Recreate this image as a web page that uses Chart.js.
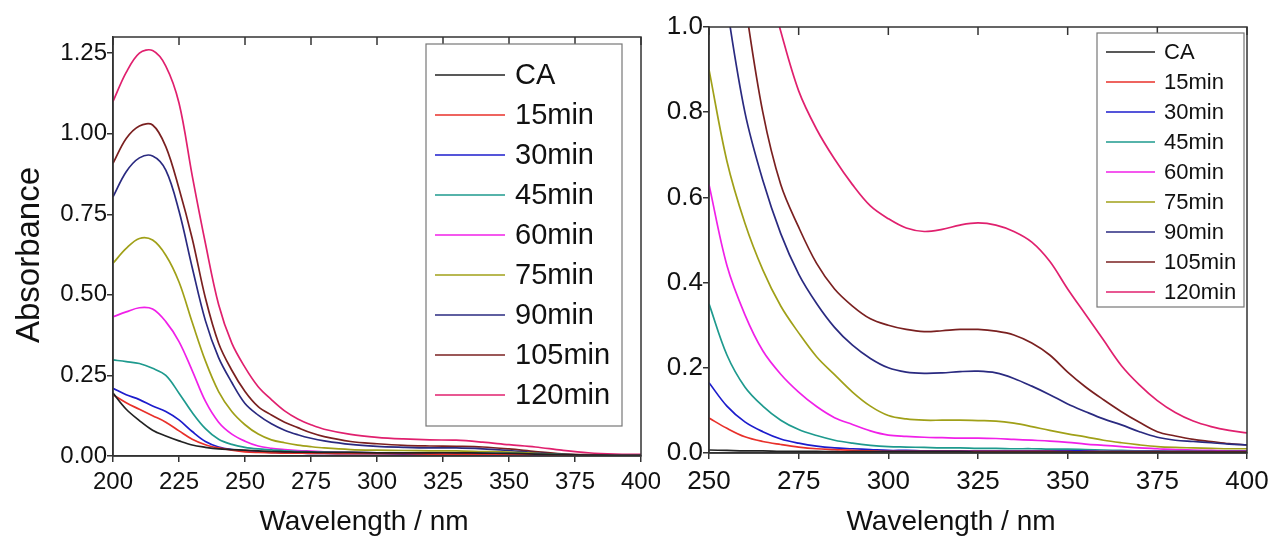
<!DOCTYPE html>
<html>
<head>
<meta charset="utf-8">
<script src="https://cdn.jsdelivr.net/npm/chart.js"></script>
<style>
html,body{margin:0;padding:0;background:#fff;}
#wrap{position:relative;width:1272px;height:537px;overflow:hidden;}
#cL{position:absolute;left:0;top:0;}
#cR{position:absolute;left:645px;top:0;}
</style>
</head>
<body>
<div id="wrap">
  <canvas id="cL" width="660" height="537"></canvas>
  <canvas id="cR" width="627" height="537"></canvas>
</div>
<script>
/* ---------- data ---------- */
const names  = ['CA','15min','30min','45min','60min','75min','90min','105min','120min'];
const colors = ['#222222','#e8302a','#1c1ccc','#1e9a8e','#f020e8','#a0a018','#2a2a80','#7a2020','#e0206e'];

// left panel, 200-400 nm
const leftWl  = [200,205,210,215,220,225,230,235,240,245,250,255,260,265,270,275,280,290,300,310,320,330,340,350,360,370,380,390,400];
const leftCA  = [0.195,0.145,0.11,0.08,0.062,0.047,0.034,0.027,0.022,0.02,0.018,0.016,0.014,0.013,0.012,0.012,0.011,0.011,0.010,0.010,0.010,0.010,0.009,0.008,0.006,0.004,0.003,0.002,0.002];
const left15  = [0.19,0.165,0.145,0.125,0.105,0.078,0.052,0.035,0.025,0.018,0.013,0.011,0.010,0.009,0.009,0.008,0.008,0.007,0.007,0.007,0.006,0.006,0.006,0.005,0.004,0.003,0.002,0.002,0.002];
const left30  = [0.21,0.19,0.175,0.155,0.138,0.112,0.076,0.045,0.028,0.02,0.016,0.013,0.011,0.010,0.009,0.008,0.008,0.007,0.007,0.006,0.006,0.006,0.005,0.004,0.003,0.002,0.002,0.002,0.002];
const left45  = [0.298,0.293,0.287,0.272,0.25,0.195,0.135,0.085,0.052,0.036,0.027,0.022,0.019,0.016,0.014,0.013,0.012,0.011,0.010,0.010,0.010,0.010,0.009,0.008,0.006,0.004,0.003,0.002,0.002];
const left60  = [0.432,0.447,0.46,0.456,0.417,0.355,0.265,0.17,0.105,0.068,0.046,0.031,0.024,0.02,0.017,0.015,0.013,0.011,0.010,0.010,0.010,0.009,0.008,0.007,0.005,0.003,0.002,0.002,0.002];
const left75  = [0.598,0.644,0.675,0.67,0.623,0.54,0.415,0.295,0.2,0.138,0.097,0.068,0.05,0.041,0.034,0.029,0.025,0.02,0.018,0.017,0.016,0.016,0.014,0.012,0.008,0.004,0.003,0.002,0.002];
const left90  = [0.804,0.882,0.925,0.931,0.887,0.76,0.585,0.42,0.305,0.228,0.163,0.127,0.1,0.08,0.066,0.055,0.047,0.036,0.03,0.027,0.025,0.025,0.022,0.017,0.01,0.005,0.003,0.002,0.002];
const left105 = [0.908,0.985,1.024,1.027,0.96,0.83,0.675,0.49,0.35,0.266,0.2,0.153,0.127,0.105,0.088,0.072,0.06,0.045,0.038,0.033,0.031,0.03,0.028,0.022,0.014,0.007,0.004,0.003,0.003];
const left120 = [1.10,1.19,1.25,1.258,1.21,1.095,0.87,0.66,0.47,0.35,0.275,0.215,0.175,0.14,0.115,0.097,0.083,0.067,0.058,0.053,0.05,0.049,0.043,0.035,0.028,0.018,0.01,0.006,0.005];

// right panel, 250-400 nm
const rightWl  = [250,255,260,265,270,275,280,285,290,295,300,305,310,315,320,325,330,335,340,345,350,355,360,365,370,375,380,385,390,395,400];
const rightCA  = [0.007,0.006,0.005,0.005,0.004,0.004,0.004,0.003,0.003,0.003,0.003,0.003,0.003,0.003,0.003,0.002,0.002,0.002,0.002,0.002,0.002,0.002,0.002,0.002,0.002,0.002,0.002,0.002,0.002,0.002,0.002];
const right15  = [0.082,0.058,0.038,0.027,0.02,0.014,0.01,0.008,0.006,0.005,0.004,0.004,0.004,0.004,0.004,0.004,0.004,0.004,0.004,0.004,0.003,0.003,0.003,0.003,0.003,0.003,0.003,0.003,0.003,0.003,0.003];
const right30  = [0.165,0.11,0.073,0.05,0.033,0.023,0.016,0.012,0.01,0.008,0.006,0.006,0.005,0.005,0.005,0.005,0.005,0.005,0.005,0.005,0.005,0.005,0.004,0.004,0.004,0.004,0.004,0.004,0.004,0.004,0.004];
const right45  = [0.35,0.23,0.155,0.11,0.077,0.055,0.041,0.03,0.023,0.018,0.015,0.014,0.013,0.012,0.012,0.011,0.011,0.01,0.01,0.009,0.009,0.008,0.007,0.006,0.005,0.005,0.004,0.004,0.003,0.003,0.003];
const right60  = [0.63,0.44,0.325,0.24,0.185,0.143,0.109,0.083,0.067,0.052,0.042,0.039,0.037,0.036,0.035,0.035,0.034,0.032,0.03,0.028,0.025,0.021,0.018,0.015,0.012,0.01,0.008,0.007,0.006,0.005,0.005];
const right75  = [0.9,0.685,0.54,0.43,0.345,0.282,0.226,0.184,0.143,0.11,0.088,0.08,0.077,0.077,0.077,0.076,0.075,0.07,0.062,0.053,0.045,0.038,0.03,0.024,0.019,0.015,0.013,0.012,0.011,0.01,0.01];
const right90  = [1.35,1.05,0.8,0.64,0.515,0.42,0.351,0.295,0.253,0.222,0.2,0.19,0.187,0.188,0.191,0.192,0.188,0.175,0.157,0.137,0.115,0.097,0.08,0.066,0.05,0.037,0.03,0.027,0.024,0.021,0.019];
const right105 = [1.7,1.35,1.06,0.8,0.63,0.53,0.445,0.385,0.345,0.315,0.3,0.29,0.285,0.287,0.29,0.29,0.286,0.277,0.258,0.23,0.19,0.155,0.125,0.097,0.072,0.05,0.04,0.032,0.027,0.022,0.019];
const right120 = [2.0,1.7,1.4,1.15,0.99,0.85,0.76,0.69,0.63,0.58,0.55,0.528,0.52,0.525,0.535,0.54,0.535,0.52,0.495,0.45,0.385,0.325,0.265,0.205,0.16,0.123,0.095,0.075,0.062,0.053,0.047];

// ticks
const leftXTicks  = [200,225,250,275,300,325,350,375,400];
const leftYTicks  = [0,0.25,0.5,0.75,1.0,1.25];
const rightXTicks = [250,275,300,325,350,375,400];
const rightYTicks = [0,0.2,0.4,0.6,0.8,1.0];

/* ---------- helpers ---------- */
const AX = '#333';
const FONT = '"Liberation Sans", Arial, sans-serif';

const mkSets = (wl, rows) => rows.map((r,i)=>({
  label: names[i],
  data: wl.map((w,j)=>({x:w, y:r[j]})),
  borderColor: colors[i],
  borderWidth: 1.7,
  pointRadius: 0,
  tension: 0.35,
  fill: false
}));

// frame + inward top ticks
const frame = {
  id:'frame',
  afterDraw(c){
    const {ctx, chartArea:a, scales:{x}} = c;
    ctx.save();
    ctx.strokeStyle=AX; ctx.lineWidth=1.5;
    ctx.strokeRect(a.left,a.top,a.right-a.left,a.bottom-a.top);
    x.ticks.forEach(t=>{
      const px=x.getPixelForValue(t.value);
      ctx.beginPath(); ctx.moveTo(px,a.top); ctx.lineTo(px,a.top+8); ctx.stroke();
    });
    ctx.restore();
  }
};

// boxed legend inside the plot
const boxLegend = {
  id:'boxLegend',
  afterDraw(c, args, o){
    const ctx=c.ctx;
    ctx.save();
    ctx.fillStyle='#fff'; ctx.fillRect(o.x,o.y,o.w,o.h);
    ctx.strokeStyle='#777'; ctx.lineWidth=1.2; ctx.strokeRect(o.x,o.y,o.w,o.h);
    ctx.font=o.size+'px '+FONT; ctx.textBaseline='middle'; ctx.textAlign='left';
    c.data.datasets.forEach((d,i)=>{
      const y=o.y+o.first+i*o.gap;
      ctx.strokeStyle=d.borderColor; ctx.lineWidth=1.6;
      ctx.beginPath(); ctx.moveTo(o.x+o.l0,y); ctx.lineTo(o.x+o.l1,y); ctx.stroke();
      ctx.fillStyle='#111'; ctx.fillText(d.label,o.x+o.tx,y+1);
    });
    ctx.restore();
  }
};

// axis titles
const titles = {
  id:'titles',
  afterDraw(c, args, o){
    const ctx=c.ctx;
    ctx.save();
    ctx.fillStyle='#111'; ctx.textAlign='center'; ctx.textBaseline='middle';
    ctx.font=o.size+'px '+FONT;
    ctx.fillText(o.x, o.xPos[0], o.xPos[1]);
    if(o.y){
      ctx.font=o.ySize+'px '+FONT;
      ctx.translate(o.yPos[0], o.yPos[1]); ctx.rotate(-Math.PI/2);
      ctx.fillText(o.y, 0, 0);
    }
    ctx.restore();
  }
};

function makeChart(el, wl, rows, cfg){
  return new Chart(document.getElementById(el), {
    type:'line',
    data:{datasets: mkSets(wl, rows)},
    plugins:[frame, boxLegend, titles],
    options:{
      responsive:false, animation:false,
      layout:{padding:{left:0, top:cfg.top, right:cfg.right, bottom:0}},
      plugins:{
        legend:{display:false}, tooltip:{enabled:false},
        boxLegend: cfg.legend,
        titles: cfg.titles
      },
      scales:{
        x:{
          type:'linear', min:cfg.xTicks[0], max:cfg.xTicks[cfg.xTicks.length-1],
          afterBuildTicks:s=>{ s.ticks=cfg.xTicks.map(v=>({value:v})); },
          afterFit:s=>{ s.height=cfg.xH; s.paddingLeft=0; s.paddingRight=0; },
          grid:{drawOnChartArea:false, color:AX, tickLength:cfg.tl, lineWidth:1.5},
          border:{color:AX, width:1.5},
          ticks:{color:'#111', font:{family:FONT, size:cfg.fs}, padding:cfg.xPad, maxRotation:0, autoSkip:false,
                 callback:v=>String(v)}
        },
        y:{
          type:'linear', min:0, max:cfg.yMax,
          afterBuildTicks:s=>{ s.ticks=cfg.yTicks.map(v=>({value:v})); },
          afterFit:s=>{ s.width=cfg.yW; s.paddingTop=0; s.paddingBottom=0; },
          grid:{drawOnChartArea:false, color:AX, tickLength:cfg.tl, lineWidth:1.5},
          border:{color:AX, width:1.5},
          ticks:{color:'#111', font:{family:FONT, size:cfg.fs}, padding:cfg.yPad, autoSkip:false,
                 callback:v=>v.toFixed(cfg.dec)}
        }
      }
    }
  });
}

makeChart('cL', leftWl, [leftCA,left15,left30,left45,left60,left75,left90,left105,left120], {
  top:37, right:19, xH:81, yW:113, yMax:1.30, dec:2, fs:24, tl:6, xPad:6, yPad:0,
  xTicks:leftXTicks, yTicks:leftYTicks,
  legend:{x:426, y:44, w:196, h:382, first:31, gap:40, l0:9, l1:79, tx:89, size:29},
  titles:{size:28, x:'Wavelength / nm', xPos:[364,522], y:'Absorbance', ySize:33, yPos:[30,255]}
});

makeChart('cR', rightWl, [rightCA,right15,right30,right45,right60,right75,right90,right105,right120], {
  top:27, right:25, xH:84, yW:64, yMax:1.0, dec:1, fs:26, tl:6, xPad:7, yPad:0,
  xTicks:rightXTicks, yTicks:rightYTicks,
  legend:{x:452, y:33, w:147, h:274, first:19, gap:30, l0:9, l1:58, tx:67, size:22},
  titles:{size:28, x:'Wavelength / nm', xPos:[306,522]}
});
</script>
</body>
</html>
